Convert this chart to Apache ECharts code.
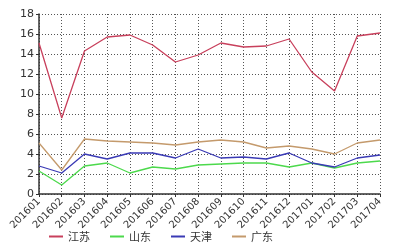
<!DOCTYPE html>
<html><head><meta charset="utf-8">
<script src="https://cdn.jsdelivr.net/npm/echarts@6/dist/echarts.min.js"></script>
<style>html,body{margin:0;padding:0;background:#fff}#c{width:417px;height:250px}</style>
</head><body><div id="c"></div>
<script>
var categories = ['201601','201602','201603','201604','201605','201606','201607','201608','201609','201610','201611','201612','201701','201702','201703','201704'];
var jiangsu  = [15.1, 7.6, 14.3, 15.7, 15.9, 14.9, 13.2, 13.9, 15.1, 14.7, 14.8, 15.5, 12.2, 10.3, 15.8, 16.1];
var shandong = [2.3, 0.9, 2.8, 3.1, 2.1, 2.7, 2.5, 2.9, 3.0, 3.1, 3.1, 2.7, 3.1, 2.6, 3.1, 3.3];
var tianjin  = [2.8, 2.1, 4.0, 3.5, 4.1, 4.1, 3.6, 4.5, 3.6, 3.7, 3.5, 4.1, 3.1, 2.7, 3.6, 3.9];
var guangdong= [5.1, 2.4, 5.5, 5.3, 5.2, 5.1, 4.9, 5.2, 5.4, 5.2, 4.6, 4.8, 4.5, 4.0, 5.1, 5.4];
var seriesNames = ['江苏','山东','天津','广东'];
var colors = ['#c8405c','#4cd94c','#3a3ab5','#c49a6c'];
var allData = [jiangsu, shandong, tianjin, guangdong];

var chart = echarts.init(document.getElementById('c'));
var font = 'DejaVu Sans, Liberation Sans, sans-serif';
chart.setOption({
  backgroundColor: '#fff',
  animation: false,
  grid: {left: 39, right: 37, top: 14, bottom: 56},
  legend: {
    bottom: 3, left: 44, itemWidth: 14, itemHeight: 2, itemGap: 20,
    icon: 'rect',
    textStyle: {fontSize: 11, color: '#333', fontFamily: 'Noto Sans CJK SC, sans-serif'},
    data: seriesNames
  },
  xAxis: {
    type: 'category', boundaryGap: false, data: categories,
    axisLine: {lineStyle: {color: '#333', width: 1.5}},
    axisTick: {show: true, length: 3, lineStyle: {color: '#333'}},
    axisLabel: {rotate: 45, fontSize: 10, color: '#333', margin: 6, fontFamily: font, interval: 0},
    splitLine: {show: true, lineStyle: {color: '#555', type: [1, 2], width: 1}}
  },
  yAxis: {
    type: 'value', min: 0, max: 18, interval: 2,
    axisLine: {show: true, lineStyle: {color: '#333', width: 1.5}},
    axisTick: {show: true, length: 3, lineStyle: {color: '#333'}},
    axisLabel: {fontSize: 11, color: '#333', margin: 5, fontFamily: font},
    splitLine: {show: true, lineStyle: {color: '#555', type: [1, 2], width: 1}}
  },
  series: allData.map(function(d, i){
    return {name: seriesNames[i], type: 'line', data: d, symbol: 'none',
      lineStyle: {color: colors[i], width: 1.3}, itemStyle: {color: colors[i]}};
  })
});
</script></body></html>
